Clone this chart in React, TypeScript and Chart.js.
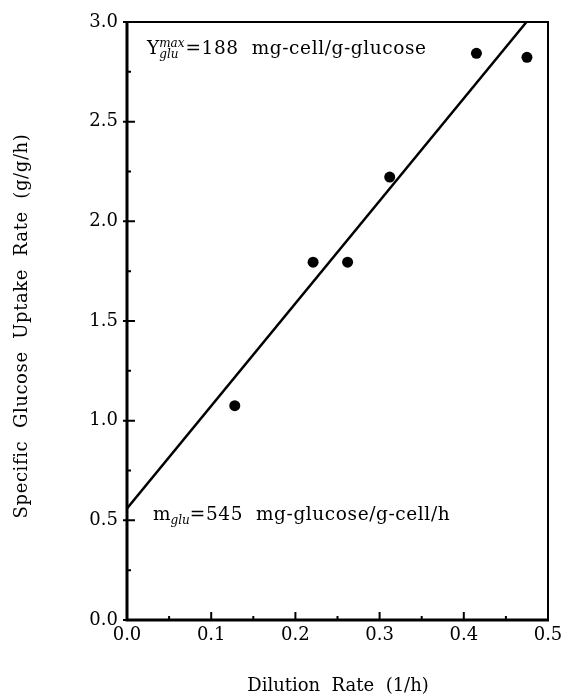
import React, { useEffect, useRef } from "react";
import { Chart, registerables } from "chart.js";

Chart.register(...registerables);

const dilutionRate = [0.128, 0.221, 0.262, 0.312, 0.415, 0.475];
const uptakeRate = [1.075, 1.795, 1.795, 2.222, 2.843, 2.823];
const fitX = [0, 0.4745];
const fitY = [0.56, 3.0];
const xMajorTicks = [0.1, 0.2, 0.3, 0.4];
const xMinorTicks = [0.05, 0.15, 0.25, 0.35, 0.45];
const yMajorTicks = [0.5, 1.0, 1.5, 2.0, 2.5];
const yMinorTicks = [0.25, 0.75, 1.25, 1.75, 2.25, 2.75];
const xTitle = "Dilution  Rate  (1/h)";
const yTitle = "Specific  Glucose  Uptake  Rate  (g/g/h)";

const FONT = '"DejaVu Serif", serif';

const framePlugin = {
  id: "frame",
  afterDraw(chart: any) {
    const ctx = chart.ctx as CanvasRenderingContext2D;
    const { left, right, top, bottom } = chart.chartArea;
    const xs = chart.scales.x;
    const ys = chart.scales.y;
    ctx.save();
    ctx.strokeStyle = "#000";
    ctx.lineWidth = 2;
    ctx.beginPath();
    ctx.moveTo(left, top);
    ctx.lineTo(right, top);
    ctx.lineTo(right, bottom);
    ctx.stroke();
    ctx.lineWidth = 3;
    ctx.beginPath();
    ctx.moveTo(left, top - 1);
    ctx.lineTo(left, bottom);
    ctx.lineTo(right + 1, bottom);
    ctx.stroke();
    ctx.lineWidth = 2;
    ctx.beginPath();
    xMajorTicks.forEach((v) => {
      const px = xs.getPixelForValue(v);
      ctx.moveTo(px, bottom);
      ctx.lineTo(px, bottom - 8);
    });
    xMinorTicks.forEach((v) => {
      const px = xs.getPixelForValue(v);
      ctx.moveTo(px, bottom);
      ctx.lineTo(px, bottom - 4);
    });
    yMajorTicks.forEach((v) => {
      const py = ys.getPixelForValue(v);
      ctx.moveTo(left, py);
      ctx.lineTo(left + 8, py);
    });
    yMinorTicks.forEach((v) => {
      const py = ys.getPixelForValue(v);
      ctx.moveTo(left, py);
      ctx.lineTo(left + 4, py);
    });
    yMajorTicks.concat([0, 3]).forEach((v) => {
      const py = ys.getPixelForValue(v);
      ctx.moveTo(left, py);
      ctx.lineTo(left - 4, py);
    });
    ctx.stroke();

    ctx.fillStyle = "#000";
    ctx.textBaseline = "alphabetic";
    const big = `18.5px ${FONT}`;
    const small = `italic 12px ${FONT}`;
    // Y^max_glu
    ctx.font = big;
    const yX = 147;
    const yBase = 54;
    ctx.fillText("Y", yX, yBase);
    const yW = ctx.measureText("Y").width;
    ctx.font = small;
    ctx.fillText("max", yX + yW, yBase - 7);
    const supW = ctx.measureText("max").width;
    ctx.fillText("glu", yX + yW, yBase + 4);
    ctx.font = big;
    (ctx as any).letterSpacing = "0.6px";
    ctx.fillText("=188  mg-cell/g-glucose", yX + yW + supW + 1, yBase);
    (ctx as any).letterSpacing = "0px";
    // m_glu
    const mX = 153;
    const mBase = 520;
    ctx.font = big;
    ctx.fillText("m", mX, mBase);
    const mW = ctx.measureText("m").width;
    ctx.font = small;
    ctx.fillText("glu", mX + mW, mBase + 4);
    const subW = ctx.measureText("glu").width;
    ctx.font = big;
    (ctx as any).letterSpacing = "0.6px";
    ctx.fillText("=545  mg-glucose/g-cell/h", mX + mW + subW, mBase);
    (ctx as any).letterSpacing = "0px";

    ctx.font = `18px ${FONT}`;
    ctx.textAlign = "center";
    ctx.textBaseline = "middle";
    ctx.fillText(xTitle, 338, 686);
    ctx.save();
    ctx.translate(22, 326);
    ctx.rotate(-Math.PI / 2);
    (ctx as any).letterSpacing = "0.6px";
    ctx.fillText(yTitle, 0, 0);
    ctx.restore();
    ctx.restore();
  },
};

export default function App() {
  const ref = useRef<HTMLCanvasElement | null>(null);
  useEffect(() => {
    if (!ref.current) return;
    const chart = new Chart(ref.current, {
      type: "scatter",
      data: {
        datasets: [
          {
            label: "fit",
            type: "line",
            data: fitX.map((x, i) => ({ x, y: fitY[i] })),
            borderColor: "#000",
            borderWidth: 2.5,
            pointRadius: 0,
            showLine: true,
            fill: false,
          } as any,
          {
            label: "data",
            data: dilutionRate.map((x, i) => ({ x, y: uptakeRate[i] })),
            backgroundColor: "#000",
            borderColor: "#000",
            pointRadius: 5.5,
            pointBorderWidth: 0,
          },
        ],
      },
      options: {
        responsive: false,
        animation: false,
        layout: { padding: { left: 0, top: 22, right: 32, bottom: 0 } },
        plugins: { legend: { display: false }, tooltip: { enabled: false } },
        scales: {
          x: {
            type: "linear",
            min: 0,
            max: 0.5,
            grid: { display: false, drawTicks: false },
            border: { display: false },
            ticks: {
              stepSize: 0.1,
              padding: 5,
              color: "#000",
              font: { family: FONT, size: 18 },
              callback: (v: any) => Number(v).toFixed(1),
            },
            afterFit: (s: any) => {
              s.height = 80;
            },
          },
          y: {
            type: "linear",
            min: 0,
            max: 3,
            grid: { display: false, drawTicks: false },
            border: { display: false },
            ticks: {
              stepSize: 0.5,
              padding: 9,
              color: "#000",
              font: { family: FONT, size: 18 },
              callback: (v: any) => Number(v).toFixed(1),
            },
            afterFit: (s: any) => {
              s.width = 127;
            },
          },
        },
      },
      plugins: [framePlugin],
    });
    return () => chart.destroy();
  }, []);
  return (
    <div style={{ position: "absolute", left: 0, top: 0, width: 580, height: 700, background: "#fff" }}>
      <canvas ref={ref} width={580} height={700} />
    </div>
  );
}
